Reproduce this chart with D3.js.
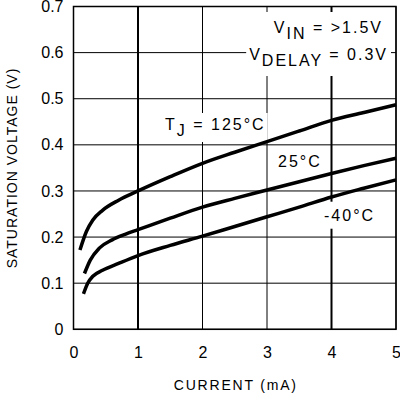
<!DOCTYPE html>
<html>
<head>
<meta charset="utf-8">
<script src="https://cdn.jsdelivr.net/npm/d3@7"></script>
<style>
  body { margin: 0; background: #fff; }
  text { font-family: "Liberation Sans", Arial, sans-serif; fill: #000; }
</style>
</head>
<body>
<div id="vis"></div>
<script>
const FRAME_WIDTH = 400;
const FRAME_HEIGHT = 396;
const MARGINS = {left: 73.5, right: 4, top: 6.5, bottom: 66.7};

// tick values
const xTicks = [0, 1, 2, 3, 4, 5];
const yTicks = [0, 0.1, 0.2, 0.3, 0.4, 0.5, 0.6, 0.7];
const boldX = [1, 4];

// curves, [current mA, saturation V]
const tj125 = [[0.1,0.172],[0.2,0.212],[0.3,0.237],[0.45,0.258],[0.7,0.28],[1,0.3],
  [1.5,0.331],[2,0.36],[2.5,0.384],[3,0.407],[3.5,0.43],[4,0.453],[4.5,0.47],[5,0.487]];
const tj25 = [[0.17,0.121],[0.26,0.15],[0.4,0.176],[0.6,0.194],[0.8,0.206],[1,0.216],
  [1.5,0.241],[2,0.265],[2.5,0.284],[3,0.302],[3.5,0.32],[4,0.338],[4.5,0.355],[5,0.371]];
const tjm40 = [[0.155,0.077],[0.22,0.1],[0.3,0.115],[0.45,0.128],[0.7,0.143],[1,0.16],
  [1.5,0.182],[2,0.202],[2.5,0.223],[3,0.244],[3.5,0.265],[4,0.287],[4.5,0.306],[5,0.324]];

const svg = d3.select("#vis")
  .append("svg")
    .attr("width", FRAME_WIDTH)
    .attr("height", FRAME_HEIGHT);

const x = d3.scaleLinear()
  .domain([0, 5])
  .range([MARGINS.left, FRAME_WIDTH - MARGINS.right]);
const y = d3.scaleLinear()
  .domain([0, 0.7])
  .range([FRAME_HEIGHT - MARGINS.bottom, MARGINS.top]);

// grid
svg.append("g").selectAll("line")
  .data(yTicks)
  .join("line")
    .attr("x1", x(0)).attr("x2", x(5))
    .attr("y1", d => y(d)).attr("y2", d => y(d))
    .attr("stroke", "#000").attr("stroke-width", 1);

svg.append("g").selectAll("line")
  .data(xTicks)
  .join("line")
    .attr("x1", d => x(d)).attr("x2", d => x(d))
    .attr("y1", y(0)).attr("y2", y(0.7))
    .attr("stroke", "#000")
    .attr("stroke-width", d => boldX.includes(d) ? 2 : 1);

// frame
svg.append("rect")
  .attr("x", x(0)).attr("y", y(0.7))
  .attr("width", x(5) - x(0)).attr("height", y(0) - y(0.7))
  .attr("fill", "none").attr("stroke", "#000").attr("stroke-width", 1.5);

// axes (labels only)
const yAxis = svg.append("g")
  .attr("transform", `translate(${x(0)},0)`)
  .call(d3.axisLeft(y).tickValues(yTicks).tickSize(0).tickPadding(10)
    .tickFormat(d => d === 0 ? "0" : d.toFixed(1)));
const xAxis = svg.append("g")
  .attr("transform", `translate(0,${y(0)})`)
  .call(d3.axisBottom(x).tickValues(xTicks).tickSize(0).tickPadding(17.5)
    .tickFormat(d3.format("d")));
[yAxis, xAxis].forEach(g => {
  g.select(".domain").remove();
  g.selectAll("text").attr("font-size", 16)
    .attr("font-family", "'Liberation Sans', Arial, sans-serif").attr("fill", "#000");
});

// axis titles
svg.append("text")
  .attr("x", (x(0) + x(5)) / 2 + 1).attr("y", 390)
  .attr("text-anchor", "middle")
  .attr("font-size", 14).attr("letter-spacing", 1.8)
  .text("CURRENT (mA)");
svg.append("text")
  .attr("transform", "translate(17,168) rotate(-90)")
  .attr("text-anchor", "middle")
  .attr("font-size", 14).attr("letter-spacing", 1)
  .text("SATURATION VOLTAGE (V)");

// annotations, each on a white box that hides the grid
const boxes = svg.append("g");
const notes = svg.append("g");
function note(px, py, anchor, parts) {
  const t = notes.append("text")
    .attr("x", px).attr("y", py)
    .attr("text-anchor", anchor)
    .attr("font-size", 16).attr("letter-spacing", 2);
  parts.forEach(p => {
    t.append("tspan").attr("dy", p[1]).text(p[0]);
  });
  return t.node();
}
function box(nodes, padX, padY) {
  const r = nodes.map(n => n.getBBox());
  const x0 = d3.min(r, b => b.x), x1 = d3.max(r, b => b.x + b.width);
  const y0 = d3.min(r, b => b.y), y1 = d3.max(r, b => b.y + b.height);
  boxes.append("rect")
    .attr("x", x0 - padX).attr("y", y0 - padY)
    .attr("width", x1 - x0 + 2 * padX).attr("height", y1 - y0 + 2 * padY)
    .attr("fill", "#fff");
}
const vin = note(383, 33, "end", [["V", 0], ["IN", 6], [" = >1.5V", -6]]);
const vdel = note(388, 60, "end", [["V", 0], ["DELAY", 6], [" = 0.3V", -6]]);
const t125 = note(165, 130, "start", [["T", 0], ["J", 6], [" = 125°C", -6]]);
const t25 = note(278, 166.7, "start", [["25°C", 0]]);
const tm40 = note(324, 220.7, "start", [["-40°C", 0]]);
box([vin, vdel], 3, 7);
box([t125], 2, 3);
box([t25], 2, 2);
box([tm40], 1, 5);

// curves
const line = d3.line()
  .x(d => x(d[0]))
  .y(d => y(d[1]))
  .curve(d3.curveMonotoneX);

svg.append("g").selectAll("path")
  .data([tj125, tj25, tjm40])
  .join("path")
    .attr("d", line)
    .attr("fill", "none")
    .attr("stroke", "#000")
    .attr("stroke-width", 3.5);
</script>
</body>
</html>
